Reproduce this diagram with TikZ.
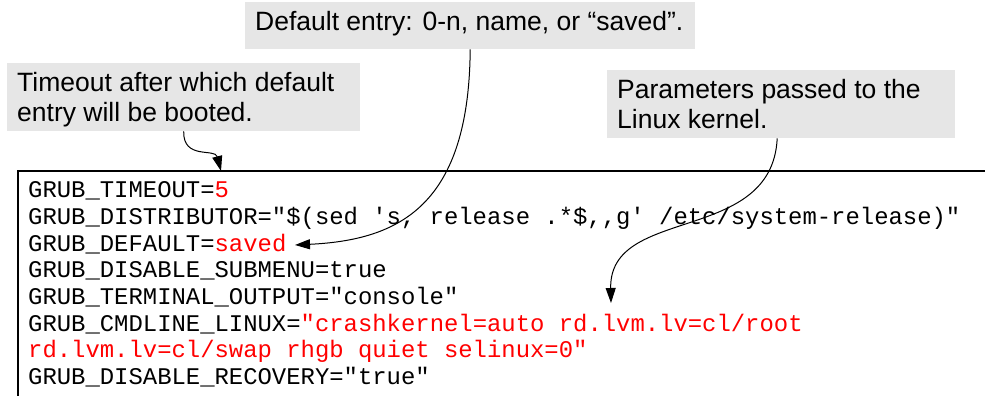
\documentclass[tikz,border=0pt]{standalone}
\usepackage{fontspec}
\setmonofont{Liberation Mono}
\newfontfamily\notefont{Liberation Sans}
\usetikzlibrary{arrows.meta}
\definecolor{notegray}{HTML}{E6E6E6}
\definecolor{valred}{HTML}{FF0000}
\begin{document}
\begin{tikzpicture}[x=1pt,y=-1pt,
  note/.style={fill=notegray, draw=none, inner sep=0pt, anchor=north west},
  notetext/.style={font=\notefont\fontsize{26.5}{29}\selectfont, inner sep=0pt, anchor=base west},
  codeline/.style={font=\ttfamily\fontsize{23.9}{26.75}\selectfont, inner sep=0pt, anchor=base west},
  pointer/.style={line width=1pt, -{Triangle[length=15pt,width=10pt]}},
  frame/.style={line width=2pt}]
\useasboundingbox (0,0) rectangle (985,396);

% callout boxes
\node[note, minimum width=353pt, minimum height=68pt] (timeoutnote) at (7,63) {};
\node[notetext] (timeoutA) at (17,92) {Timeout after which default};
\node[notetext] (timeoutB) at (17,121) {entry will be booted.};

\node[note, minimum width=450pt, minimum height=47pt] (defaultnote) at (245,2) {};
\node[notetext] (defaultA) at (255,31) {Default entry: 0-n, name, or “saved”.};

\node[note, minimum width=348pt, minimum height=68pt] (kernelnote) at (607,70) {};
\node[notetext] (kernelA) at (617,99) {Parameters passed to the};
\node[notetext] (kernelB) at (617,128) {Linux kernel.};

% file frame (open to the right and bottom)
\draw[frame] (18,398) -- (18,171) -- (987,171);

% file contents
\node[codeline] (l1) at (28,197) {GRUB\_TIMEOUT=\textcolor{valred}{5}};
\node[codeline] (l2) at (28,224) {GRUB\_DISTRIBUTOR="\$(sed 's, release .*\$,,g' /etc/system-release)"};
\node[codeline] (l3) at (28,251) {GRUB\_DEFAULT=\textcolor{valred}{saved}};
\node[codeline] (l4) at (28,277) {GRUB\_DISABLE\_SUBMENU=true};
\node[codeline] (l5) at (28,304) {GRUB\_TERMINAL\_OUTPUT="console"};
\node[codeline] (l6) at (28,331) {GRUB\_CMDLINE\_LINUX=\textcolor{valred}{"crashkernel=auto rd.lvm.lv=cl/root}};
\node[codeline] (l7) at (28,357) {\textcolor{valred}{rd.lvm.lv=cl/swap rhgb quiet selinux=0"}};
\node[codeline] (l8) at (28,384) {GRUB\_DISABLE\_RECOVERY="true"};

% arrow targets
\coordinate (timeouttip) at (221,171);
\coordinate (savedtip) at (295,245);
\coordinate (cmdlinetip) at (611,303);

% pointers
\draw[pointer] (timeoutnote.south) .. controls (183,160) and (215,148) .. (timeouttip);
\draw[pointer] (defaultnote.south) .. controls (469,205) and (400,240) .. (savedtip);
\draw[pointer] ([xshift=-4pt]kernelnote.south) .. controls (772,245) and (609,205) .. (cmdlinetip);
\end{tikzpicture}
\end{document}
